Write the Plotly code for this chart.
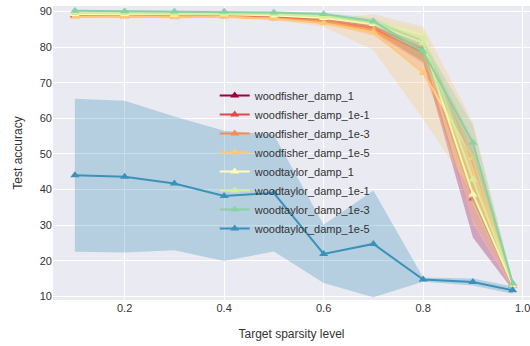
import plotly.graph_objects as go

sparsity = [0.1, 0.2, 0.3, 0.4, 0.5, 0.6, 0.7, 0.8, 0.9, 0.98]

names = [
    "woodfisher_damp_1", "woodfisher_damp_1e-1", "woodfisher_damp_1e-3", "woodfisher_damp_1e-5",
    "woodtaylor_damp_1", "woodtaylor_damp_1e-1", "woodtaylor_damp_1e-3", "woodtaylor_damp_1e-5",
]
colors = ["#9e0142", "#e0494d", "#f88d51", "#fdc877", "#fefeb6", "#d6ee9b", "#8ad1a4", "#3b92b8"]

fisher_1 = [89.0, 89.0, 88.9, 88.9, 88.6, 87.8, 85.7, 79.5, 37.5, 13.0]
fisher_1e1 = [88.9, 88.9, 88.7, 88.8, 88.4, 87.5, 85.2, 78.5, 41.0, 13.5]
fisher_1e3 = [88.7, 88.7, 88.5, 88.6, 88.1, 87.2, 84.8, 77.2, 45.0, 13.5]
fisher_1e5 = [88.5, 88.6, 88.4, 88.5, 88.0, 86.7, 84.2, 72.8, 48.9, 12.8]
taylor_1 = [89.3, 89.3, 89.1, 89.2, 88.9, 88.2, 86.5, 81.2, 38.6, 13.2]
taylor_1e1 = [89.6, 89.5, 89.4, 89.4, 89.2, 88.6, 87.0, 82.6, 42.8, 13.6]
taylor_1e3 = [90.2, 90.1, 90.0, 90.0, 89.7, 89.3, 87.3, 78.8, 53.1, 13.6]
taylor_1e5 = [44.0, 43.6, 41.7, 38.2, 39.0, 21.9, 24.7, 14.7, 14.0, 11.7]

fisher_1_sd = [0.3, 0.3, 0.3, 0.3, 0.4, 0.6, 1.2, 3.5, 11.0, 1.2]
fisher_1e1_sd = [0.3, 0.3, 0.3, 0.3, 0.4, 0.6, 1.2, 3.0, 10.0, 1.0]
fisher_1e3_sd = [0.3, 0.3, 0.3, 0.3, 0.4, 0.6, 1.5, 4.0, 9.0, 1.0]
fisher_1e5_sd = [0.3, 0.3, 0.3, 0.3, 0.4, 1.0, 5.0, 13.0, 10.0, 1.0]
taylor_1_sd = [0.3, 0.3, 0.3, 0.3, 0.3, 0.5, 1.0, 2.5, 8.0, 1.0]
taylor_1e1_sd = [0.3, 0.3, 0.3, 0.3, 0.3, 0.5, 1.0, 2.5, 7.0, 1.0]
taylor_1e3_sd = [0.3, 0.3, 0.3, 0.3, 0.3, 0.4, 0.8, 3.0, 5.0, 1.0]
taylor_1e5_sd = [21.5, 21.3, 18.8, 18.3, 16.4, 8.2, 15.0, 0.6, 1.0, 1.0]

means = [fisher_1, fisher_1e1, fisher_1e3, fisher_1e5, taylor_1, taylor_1e1, taylor_1e3, taylor_1e5]
sds = [fisher_1_sd, fisher_1e1_sd, fisher_1e3_sd, fisher_1e5_sd,
       taylor_1_sd, taylor_1e1_sd, taylor_1e3_sd, taylor_1e5_sd]


def rgba(h, a):
    h = h.lstrip("#")
    return "rgba(%d,%d,%d,%.2f)" % (int(h[0:2], 16), int(h[2:4], 16), int(h[4:6], 16), a)


fig = go.Figure()
for name, col, m, s in zip(names, colors, means, sds):
    upper = [a + b for a, b in zip(m, s)]
    lower = [a - b for a, b in zip(m, s)]
    fig.add_trace(go.Scatter(
        x=sparsity + sparsity[::-1], y=upper + lower[::-1],
        fill="toself", fillcolor=rgba(col, 0.3), line=dict(width=0),
        mode="lines", showlegend=False, hoverinfo="skip"))
    fig.add_trace(go.Scatter(
        x=sparsity, y=m, name=name, mode="lines+markers",
        line=dict(color=col, width=2),
        marker=dict(symbol="triangle-up", size=8, color=col)))

font = "Liberation Sans, Arial, sans-serif"
fig.update_layout(
    width=530, height=346,
    margin=dict(l=53, r=0, t=6, b=46),
    paper_bgcolor="white", plot_bgcolor="#EAEAF2",
    font=dict(family=font, size=11, color="#333333"),
    showlegend=True,
    legend=dict(x=0.339, y=0.745, xanchor="left", yanchor="top",
                bgcolor="rgba(0,0,0,0)", font=dict(size=11, color="#333333"),
                tracegroupgap=0),
    xaxis=dict(range=[0.056, 1.0148], tickvals=[0.2, 0.4, 0.6, 0.8, 1.0],
               ticktext=["0.2", "0.4", "0.6", "0.8", "1.0"], ticklabeloverflow="allow",
               gridcolor="white", gridwidth=1.2, zeroline=False, showline=False,
               ticks="", title=dict(text="Target sparsity level", font=dict(size=12), standoff=16)),
    yaxis=dict(range=[8.95, 91.55], tickvals=[10, 20, 30, 40, 50, 60, 70, 80, 90],
               gridcolor="white", gridwidth=1.2, zeroline=False, showline=False,
               ticks="", title=dict(text="Test accuracy", font=dict(size=12), standoff=14)),
)

fig.write_html("out.html")
